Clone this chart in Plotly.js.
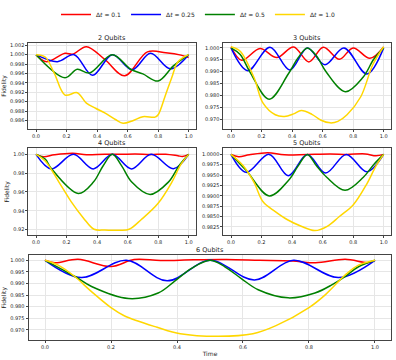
<!DOCTYPE html>
<html>
<head>
<meta charset="utf-8">
<script src="https://cdn.plot.ly/plotly-3.0.1.min.js"></script>
<style>body{margin:0;background:#fff}#myDiv{width:396px;height:360px}</style>
</head>
<body>
<div id="myDiv"></div>
<script>
// step sizes in the legend
var labels = ['Δ<i>t</i> = 0.1', 'Δ<i>t</i> = 0.25', 'Δ<i>t</i> = 0.5', 'Δ<i>t</i> = 1.0'];
var colors = ['#ff0000', '#0000ff', '#008000', '#ffd700'];
var titles = ['2 Qubits', '3 Qubits', '4 Qubits', '5 Qubits', '6 Qubits'];

// 2 qubits
var q2_t_red = [0, 0.07, 0.19, 0.24, 0.33, 0.45, 0.58, 0.73, 0.85, 0.95, 1.0];
var q2_f_red = [1.0000, 0.9985, 1.0003, 1.0001, 1.0017, 0.9990, 0.9955, 1.0006, 1.0004, 0.9999, 0.9994];
var q2_t_blue = [0, 0.14, 0.25, 0.37, 0.5, 0.63, 0.75, 0.88, 1.0];
var q2_f_blue = [1.0000, 0.9985, 1.0000, 0.9956, 1.0000, 0.9968, 1.0003, 0.9970, 1.0000];
var q2_t_green = [0, 0.19, 0.27, 0.35, 0.5, 0.62, 0.70, 0.80, 0.90, 1.0];
var q2_f_green = [1.0000, 0.9951, 0.9969, 0.9961, 1.0000, 0.9969, 0.9959, 0.9944, 0.9976, 1.0000];
var q2_t_gold = [0, 0.06, 0.12, 0.19, 0.27, 0.33, 0.39, 0.45, 0.52, 0.57, 0.63, 0.70, 0.78, 0.80, 0.845, 0.89, 0.93, 1.0];
var q2_f_gold = [1.0000, 0.9995, 0.9960, 0.9914, 0.9919, 0.9897, 0.9886, 0.9876, 0.9862, 0.9854, 0.9859, 0.9868, 0.9867, 0.9872, 0.9911, 0.9952, 0.9985, 1.0000];

// 3 qubits
var q3_t_red = [0, 0.07, 0.19, 0.30, 0.41, 0.51, 0.605, 0.71, 0.80, 0.91, 1.0];
var q3_f_red = [1.0005, 0.9948, 0.9997, 0.9959, 1.0004, 0.9941, 1.0003, 0.9952, 1.0000, 0.9956, 1.0004];
var q3_t_blue = [0, 0.11, 0.255, 0.385, 0.5, 0.615, 0.74, 0.89, 1.0];
var q3_f_blue = [1.0000, 0.9904, 1.0003, 0.9907, 1.0000, 0.9929, 1.0000, 0.9890, 1.0000];
var q3_t_green = [0, 0.06, 0.125, 0.25, 0.375, 0.44, 0.5, 0.56, 0.625, 0.75, 0.865, 0.935, 1.0];
var q3_f_green = [1.0000, 0.9972, 0.9897, 0.9784, 0.9890, 0.9959, 1.0000, 0.9966, 0.9897, 0.9815, 0.9876, 0.9952, 1.0000];
var q3_t_gold = [0, 0.06, 0.15, 0.21, 0.29, 0.35, 0.41, 0.46, 0.53, 0.59, 0.65, 0.70, 0.76, 0.85, 0.93, 1.0];
var q3_f_gold = [1.0005, 0.9986, 0.9876, 0.9767, 0.9718, 0.9711, 0.9722, 0.9736, 0.9720, 0.9695, 0.9684, 0.9690, 0.9718, 0.9794, 0.9931, 1.0005];

// 4 qubits
var q4_t_red = [0, 0.05, 0.12, 0.24, 0.33, 0.45, 0.55, 0.65, 0.75, 0.85, 0.93, 0.96, 1.0];
var q4_f_red = [1.000, 0.9975, 0.9995, 1.0012, 0.9995, 1.0002, 1.0000, 1.0003, 0.9998, 1.0002, 0.9985, 0.9978, 1.000];
var q4_t_blue = [0, 0.10, 0.245, 0.375, 0.5, 0.625, 0.755, 0.90, 1.0];
var q4_f_blue = [1.000, 0.9845, 1.000, 0.9845, 1.000, 0.9845, 1.000, 0.9847, 1.000];
var q4_t_green = [0, 0.06, 0.10, 0.277, 0.376, 0.44, 0.5, 0.56, 0.627, 0.747, 0.867, 0.937, 1.0];
var q4_f_green = [1.000, 0.995, 0.985, 0.9584, 0.9705, 0.9879, 1.000, 0.9880, 0.9705, 0.9574, 0.9705, 0.9879, 1.000];
var q4_t_gold = [0, 0.06, 0.15, 0.23, 0.31, 0.38, 0.45, 0.50, 0.55, 0.61, 0.69, 0.80, 0.89, 0.95, 1.0];
var q4_f_gold = [1.000, 0.993, 0.9705, 0.9497, 0.9324, 0.9203, 0.9195, 0.9192, 0.9193, 0.9203, 0.9307, 0.948, 0.9705, 0.9896, 1.000];

// 5 qubits
var q5_t_red = [0, 0.05, 0.12, 0.24, 0.35, 0.5, 0.65, 0.76, 0.88, 0.95, 1.0];
var q5_f_red = [1.0000, 0.99945, 0.9999, 1.0004, 0.9999, 1.0000, 1.0001, 1.0000, 1.0001, 0.99965, 1.0000];
var q5_t_blue = [0, 0.10, 0.25, 0.375, 0.5, 0.62, 0.755, 0.89, 1.0];
var q5_f_blue = [1.0, 0.99566, 1.0, 0.99487, 1.0, 0.9955, 1.0, 0.99582, 1.0];
var q5_t_green = [0, 0.10, 0.251, 0.376, 0.44, 0.5, 0.56, 0.627, 0.747, 0.867, 0.937, 1.0];
var q5_f_green = [1.0, 0.9961, 0.98998, 0.9937, 0.99724, 1.0, 0.99724, 0.99448, 0.99132, 0.99448, 0.99763, 1.0];
var q5_t_gold = [0, 0.08, 0.15, 0.21, 0.29, 0.37, 0.46, 0.55, 0.63, 0.71, 0.80, 0.89, 0.95, 1.0];
var q5_f_gold = [1.0, 0.99724, 0.9933, 0.98856, 0.9862, 0.98423, 0.98265, 0.98162, 0.98265, 0.98502, 0.98778, 0.9929, 0.99724, 1.0];

// 6 qubits
var q6_t_red = [0, 0.03, 0.10, 0.20, 0.27, 0.35, 0.45, 0.55, 0.65, 0.75, 0.82, 0.91, 0.98, 1.0];
var q6_f_red = [1.000, 0.9989, 1.0004, 0.9973, 1.0003, 0.9999, 1.0002, 1.0003, 1.0000, 0.9997, 0.9989, 1.0004, 0.9990, 1.000];
var q6_t_blue = [0, 0.11, 0.247, 0.37, 0.5, 0.635, 0.753, 0.89, 1.0];
var q6_f_blue = [1.0, 0.99254, 1.0, 0.99113, 1.0, 0.99155, 1.0, 0.99254, 1.0];
var q6_t_green = [0, 0.091, 0.141, 0.253, 0.343, 0.394, 0.444, 0.5, 0.545, 0.596, 0.646, 0.737, 0.818, 0.869, 0.909, 0.95, 1.0];
var q6_f_green = [1.0, 0.993, 0.9887, 0.98352, 0.9859, 0.99113, 0.9965, 1.0, 0.9972, 0.992, 0.9873, 0.9838, 0.9859, 0.9894, 0.993, 0.9972, 1.0];
var q6_t_gold = [0, 0.04, 0.09, 0.14, 0.2, 0.24, 0.34, 0.41, 0.525, 0.63, 0.70, 0.80, 0.85, 0.91, 0.95, 1.0];
var q6_f_gold = [1.0, 0.9979, 0.993, 0.9866, 0.9796, 0.9761, 0.9711, 0.9683, 0.9672, 0.9683, 0.9718, 0.9796, 0.9852, 0.9937, 0.9979, 1.0];

var panels = [
    [[q2_t_red, q2_f_red], [q2_t_blue, q2_f_blue], [q2_t_green, q2_f_green], [q2_t_gold, q2_f_gold]],
    [[q3_t_red, q3_f_red], [q3_t_blue, q3_f_blue], [q3_t_green, q3_f_green], [q3_t_gold, q3_f_gold]],
    [[q4_t_red, q4_f_red], [q4_t_blue, q4_f_blue], [q4_t_green, q4_f_green], [q4_t_gold, q4_f_gold]],
    [[q5_t_red, q5_f_red], [q5_t_blue, q5_f_blue], [q5_t_green, q5_f_green], [q5_t_gold, q5_f_gold]],
    [[q6_t_red, q6_f_red], [q6_t_blue, q6_f_blue], [q6_t_green, q6_f_green], [q6_t_gold, q6_f_gold]]
];

var xdom = [[0.0717, 0.4957], [0.5641, 0.9881], [0.0717, 0.4957], [0.5641, 0.9881], [0.072, 0.9886]];
var ydom = [[0.6556, 0.8972], [0.6556, 0.8972], [0.3528, 0.6], [0.3528, 0.6], [0.0556, 0.2972]];
var yrng = [[0.98427, 1.00242], [0.96599, 1.00194], [0.91375, 1.00656], [0.98044, 1.00149], [0.96547, 1.00224]];
var ytick = [[0.002, '.3f'], [0.005, '.3f'], [0.02, '.2f'], [0.0025, '.4f'], [0.005, '.3f']];

var data = [];
var layout = {
    width: 396,
    height: 360,
    margin: {l: 0, r: 0, t: 0, b: 0},
    paper_bgcolor: '#fff',
    plot_bgcolor: '#fff',
    font: {family: 'DejaVu Sans', color: '#222'},
    showlegend: true,
    legend: {
        orientation: 'h', x: 0.5, xanchor: 'center', y: 1.02, yanchor: 'top',
        font: {size: 6, color: '#222'}, itemwidth: 30, tracegroupgap: 0
    },
    annotations: []
};

for (var p = 0; p < 5; p++) {
    var sfx = p == 0 ? '' : String(p + 1);
    for (var s = 0; s < 4; s++) {
        data.push({
            x: panels[p][s][0],
            y: panels[p][s][1],
            type: 'scatter',
            mode: 'lines',
            name: labels[s],
            legendgroup: 'g' + s,
            showlegend: p == 0,
            line: {color: colors[s], width: 1.5, shape: 'spline', smoothing: 1},
            xaxis: 'x' + sfx,
            yaxis: 'y' + sfx
        });
    }
    var common = {
        showline: true, mirror: true, linecolor: '#444', linewidth: 1,
        showgrid: true, gridcolor: '#e6e6e6', gridwidth: 0.8, zeroline: false,
        ticks: 'outside', ticklen: 2, tickcolor: '#444', tickwidth: 0.8,
        ticklabelstandoff: 0,
        tickfont: {size: 5, color: '#222'}
    };
    layout['xaxis' + sfx] = Object.assign({}, common, {
        domain: xdom[p], range: [-0.05, 1.05], anchor: 'y' + sfx,
        tick0: 0, dtick: 0.2, tickformat: '.1f',
        title: p == 4 ? {text: 'Time', font: {size: 6, color: '#222'}, standoff: 2} : {text: ''}
    });
    layout['yaxis' + sfx] = Object.assign({}, common, {
        domain: ydom[p], range: yrng[p], anchor: 'x' + sfx,
        tick0: 1.0, dtick: ytick[p][0], tickformat: ytick[p][1],
        title: (p % 2 == 0) ? {text: 'Fidelity', font: {size: 6, color: '#222'}, standoff: 3} : {text: ''}
    });
    layout.annotations.push({
        text: titles[p], xref: 'paper', yref: 'paper',
        x: (xdom[p][0] + xdom[p][1]) / 2, y: ydom[p][1],
        xanchor: 'center', yanchor: 'bottom', yshift: -1,
        showarrow: false, font: {size: 6.5, color: '#222'}
    });
}

Plotly.newPlot('myDiv', data, layout, {displayModeBar: false});
</script>
</body>
</html>
